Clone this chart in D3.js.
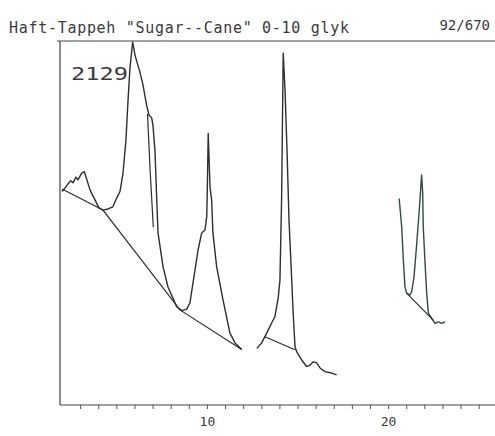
<!DOCTYPE html>
<html>
<head>
    <title>Haft-Tappeh Sugar-Cane chromatogram</title>
    <script src="https://cdnjs.cloudflare.com/ajax/libs/d3/7.8.5/d3.min.js"></script>
    <style>
        body {
            margin: 0;
            background-color: #fff;
        }
        svg text {
            font-family: "DejaVu Sans Mono", monospace;
            fill: #3a3a3a;
        }
    </style>
</head>
<body>
    <div id="chart"></div>

    <script>
        // Trace pieces: [retention time (min), signal]
        const trace1 = [
            [2.00, 58.8], [2.17, 59.8], [2.33, 60.9], [2.48, 61.8], [2.61, 61.2],
            [2.77, 62.8], [2.88, 62.0], [3.09, 63.9], [3.23, 64.3], [3.32, 62.9],
            [3.55, 59.2], [3.82, 56.5], [4.04, 54.3], [4.26, 53.7], [4.54, 54.0],
            [4.81, 54.6], [5.02, 57.0], [5.20, 58.8], [5.37, 63.9], [5.53, 73.0],
            [5.64, 83.5], [5.75, 92.8], [5.90, 100.0], [6.03, 96.4], [6.30, 91.7],
            [6.47, 88.2], [6.67, 82.6], [6.80, 79.9], [6.95, 79.1], [7.02, 77.1],
            [7.13, 70.2], [7.23, 56.5], [7.30, 47.4], [7.58, 38.0], [7.85, 32.5],
            [8.33, 27.1], [8.61, 26.0], [8.88, 26.4], [9.06, 28.1], [9.23, 33.6],
            [9.51, 42.7], [9.71, 47.4], [9.89, 48.2], [9.99, 51.9], [10.03, 62.0],
            [10.07, 74.8], [10.17, 60.1], [10.26, 56.5], [10.33, 47.4], [10.54, 38.0],
            [10.89, 28.9], [11.27, 19.8], [11.55, 17.1], [11.92, 15.3]
        ];
        const trace2 = [
            [12.75, 15.6], [13.02, 17.1], [13.30, 19.8], [13.57, 22.6], [13.75, 24.3],
            [13.94, 29.8], [14.03, 34.4], [14.12, 56.5], [14.17, 78.5], [14.21, 96.9],
            [14.31, 86.8], [14.42, 70.2], [14.53, 51.0], [14.68, 34.4], [14.76, 25.3],
            [14.86, 16.1], [14.95, 14.7], [15.23, 12.4], [15.50, 10.6], [15.69, 11.0],
            [15.87, 11.9], [16.06, 11.6], [16.24, 10.2], [16.51, 9.2], [16.88, 8.8],
            [17.16, 8.3]
        ];
        const trace3 = [
            [20.61, 56.9], [20.75, 49.1], [20.84, 39.9], [20.93, 32.6], [21.02, 30.8],
            [21.21, 30.3], [21.30, 31.2], [21.43, 35.3], [21.58, 44.5], [21.72, 53.7],
            [21.85, 63.4], [21.91, 58.4], [21.94, 49.1], [22.03, 39.9], [22.13, 30.8],
            [22.22, 25.3], [22.40, 23.9], [22.59, 22.5], [22.77, 22.9], [22.96, 22.5],
            [23.14, 22.9]
        ];

        // Integration baselines and the drop line on the big peak's shoulder
        const baseline1 = [[2.00, 59.5], [4.26, 53.7], [8.51, 26.2], [11.92, 15.3]];
        const baseline2 = [[13.20, 18.8], [14.86, 15.2]];
        const baseline3 = [[21.02, 30.8], [22.49, 23.4]];
        const dropLine = [[6.72, 80.2], [6.86, 65.0], [7.04, 49.0]];

        const xTicks = d3.range(3, 26);
        const xLabels = [10, 20];
        const titleText = "Haft-Tappeh \"Sugar--Cane\" 0-10 glyk";
        const sampleText = "92/670";
        const peakLabel = "2129";

        const width = 495;
        const height = 436;

        const svg = d3.select("#chart")
            .append("svg")
            .attr("width", width)
            .attr("height", height);

        const x = d3.scaleLinear().domain([2, 25.9]).range([62, 495]);
        const y = d3.scaleLinear().domain([0, 100]).range([405, 42]);

        const line = d3.line()
            .x(d => x(d[0]))
            .y(d => y(d[1]));

        // title row
        svg.append("text")
            .attr("x", 9)
            .attr("y", 33)
            .attr("font-size", 15)
            .attr("textLength", 340)
            .attr("lengthAdjust", "spacing")
            .text(titleText);

        svg.append("text")
            .attr("x", 490)
            .attr("y", 30)
            .attr("font-size", 14)
            .attr("text-anchor", "end")
            .text(sampleText);

        // frame
        svg.append("line")
            .attr("x1", 57).attr("x2", 495)
            .attr("y1", 41).attr("y2", 41)
            .attr("stroke", "#444")
            .attr("stroke-width", 1.2);

        svg.append("line")
            .attr("x1", 60).attr("x2", 60)
            .attr("y1", 41).attr("y2", 405)
            .attr("stroke", "#444")
            .attr("stroke-width", 1.2);

        // x axis with minute ticks
        const xAxis = d3.axisBottom(x)
            .tickValues(xTicks)
            .tickSize(4)
            .tickFormat(d => xLabels.includes(d) ? d : "");

        const gx = svg.append("g")
            .attr("transform", `translate(0, ${y(0)})`)
            .call(xAxis);
        gx.select(".domain")
            .attr("d", `M60,0H495`)
            .attr("stroke", "#444")
            .attr("stroke-width", 1.2);
        gx.selectAll(".tick line").attr("stroke", "#555");
        gx.selectAll(".tick text")
            .attr("dy", 14)
            .attr("font-size", 13)
            .style("font-family", "\"DejaVu Sans Mono\", monospace")
            .attr("fill", "#444");

        svg.append("text")
            .attr("x", 71)
            .attr("y", 80)
            .attr("font-size", 17)
            .attr("textLength", 57)
            .attr("lengthAdjust", "spacingAndGlyphs")
            .text(peakLabel);

        // chromatogram
        const ink = "#2e2e2e";
        [trace1, trace2].forEach(t => {
            svg.append("path")
                .datum(t)
                .attr("fill", "none")
                .attr("stroke", ink)
                .attr("stroke-width", 1.4)
                .attr("stroke-linejoin", "round")
                .attr("d", line);
        });
        svg.append("path")
            .datum(trace3)
            .attr("fill", "none")
            .attr("stroke", "#2f4a3e")
            .attr("stroke-width", 1.4)
            .attr("stroke-linejoin", "round")
            .attr("d", line);

        [baseline1, baseline2, baseline3, dropLine].forEach(b => {
            svg.append("path")
                .datum(b)
                .attr("fill", "none")
                .attr("stroke", ink)
                .attr("stroke-width", 1.2)
                .attr("d", line);
        });
    </script>
</body>
</html>
